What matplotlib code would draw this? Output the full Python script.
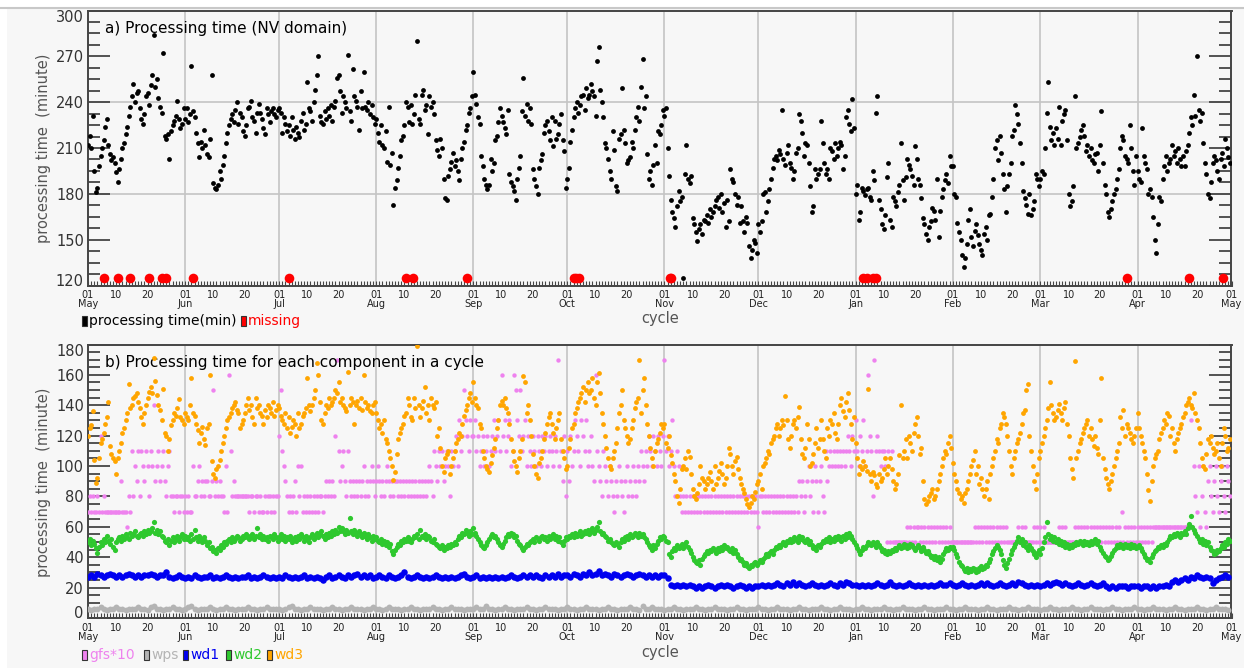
import matplotlib
matplotlib.use("Agg")
import matplotlib.pyplot as plt
import matplotlib.dates as mdates
from matplotlib.ticker import MultipleLocator, FuncFormatter
from matplotlib.patches import Rectangle
from matplotlib.lines import Line2D
import numpy as np
import pandas as pd

start = pd.Timestamp("2018-05-01")
end = pd.Timestamp("2019-05-01")

# NV domain total processing time (minutes), two cycles per day, May .. Apr
nv_time = [
    212,218,210,231,195,181,184,198,205,210,215,224,229,212,206,202,204,200,194,188,196,203,210,213,219,224,231,237,244,252,240,246,247,236,229,226,232,244,246,238,251,258,284,250,255,243,237,233,272,218,216,219,203,221,225,228,231,241,229,223,226,236,
    229,236,227,232,264,234,230,220,213,204,214,210,222,212,206,204,216,258,187,184,183,186,195,190,199,205,213,220,225,229,232,227,235,240,226,233,230,221,218,225,236,237,241,230,228,220,233,239,233,229,223,219,236,232,227,234,236,232,230,235,
    236,233,220,230,226,221,225,218,230,222,216,224,220,217,228,233,222,226,253,236,234,228,240,248,258,270,231,227,226,234,229,236,231,238,228,237,241,256,258,247,233,244,240,236,271,234,228,262,244,241,237,222,247,236,260,237,235,240,232,238,230,226,
    229,220,214,225,212,210,221,201,237,199,207,173,184,189,197,205,215,218,225,240,237,227,238,226,232,245,280,229,226,245,248,235,238,219,244,237,240,232,215,209,205,216,210,190,177,176,192,196,201,207,198,202,195,189,203,210,214,222,225,233,236,244,
    260,245,239,230,226,205,198,190,186,183,186,203,195,200,215,218,227,236,231,227,223,219,235,193,188,185,182,176,190,197,205,234,256,231,239,228,236,226,196,190,185,180,197,202,206,220,225,228,221,215,230,211,228,216,219,226,232,215,208,184,
    190,197,214,222,230,236,240,233,238,244,245,235,249,243,245,252,247,244,231,267,276,248,240,230,213,210,203,195,190,221,209,185,182,216,219,249,222,213,200,202,204,214,210,222,230,237,228,250,268,236,244,206,190,195,186,199,212,200,221,219,225,235,
    231,236,210,192,176,168,164,158,172,182,175,178,125,193,212,190,187,192,164,160,155,149,157,160,154,163,162,166,161,170,165,168,172,176,178,171,180,168,174,158,176,162,196,190,188,180,173,178,161,172,162,155,165,161,146,138,143,150,148,141,
    160,155,162,180,181,168,175,183,190,197,203,205,202,209,206,235,203,199,207,212,200,197,190,195,207,210,232,228,220,205,213,212,200,185,168,172,196,190,193,196,228,213,200,193,196,190,210,208,203,213,205,210,214,212,196,205,230,235,226,221,242,223,
    180,186,163,168,184,182,179,183,184,178,176,195,189,233,244,176,170,160,157,166,191,200,163,158,178,175,172,181,186,213,189,176,191,203,199,196,192,186,211,203,190,186,177,164,160,154,150,158,162,171,169,163,190,152,169,178,183,189,193,187,205,198,
    198,180,178,161,155,150,140,132,138,147,163,170,152,146,156,160,153,147,143,140,154,158,150,166,167,178,190,210,215,202,218,207,193,183,168,185,193,200,218,222,238,232,226,213,200,182,177,173,167,180,166,170,175,193,190,185,
    190,195,193,210,233,253,224,215,220,212,223,216,237,212,228,232,235,215,180,172,175,185,244,210,213,217,222,225,218,208,212,205,210,202,200,206,207,195,212,234,200,186,180,168,165,170,175,180,183,190,196,210,218,215,205,203,200,225,210,195,186,205,
    195,190,188,223,205,200,196,180,183,178,165,150,141,160,178,175,190,198,205,195,200,203,212,205,208,200,210,203,198,205,198,208,212,220,230,225,245,231,270,235,228,233,213,200,193,180,177,188,200,205,202,195,190,203,207,198,216,210,204,200,
]

# cycles that did not finish
missing_cycles = [
    "2018-05-06 06:00", "2018-05-10 12:00", "2018-05-14 12:00", "2018-05-20 12:00",
    "2018-05-24 12:00", "2018-05-25 18:00", "2018-06-03 12:00", "2018-07-04 06:00",
    "2018-08-10 12:00", "2018-08-12 18:00", "2018-08-30 00:00", "2018-10-03 00:00",
    "2018-10-03 18:00", "2018-10-04 18:00", "2018-11-02 18:00", "2018-11-03 06:00",
    "2019-01-03 12:00", "2019-01-04 12:00", "2019-01-06 12:00", "2019-01-07 12:00",
    "2019-03-28 12:00", "2019-04-17 12:00", "2019-04-28 06:00",
]

# gfs download time x10, two cycles per day
gfs10 = [
    70,80,70,80,70,70,80,70,120,70,80,70,70,70,70,70,70,70,70,70,70,90,70,70,70,60,80,70,110,80,100,90,110,80,110,100,90,110,100,80,110,100,140,90,100,110,90,100,110,90,80,100,110,80,80,70,80,80,70,80,80,70,
    80,70,80,70,70,100,80,80,90,100,80,90,80,90,90,80,80,90,150,80,90,80,90,80,80,70,100,70,160,110,80,90,80,80,80,80,80,80,80,80,80,70,80,80,70,80,80,70,80,70,70,80,70,80,80,70,80,70,80,80,
    120,150,110,100,90,80,70,80,70,80,90,70,100,80,100,70,80,70,80,70,80,70,80,70,80,70,80,80,70,80,90,80,90,80,90,80,120,170,110,90,100,110,90,80,110,90,80,90,80,90,80,90,80,90,100,80,90,80,90,100,90,80,
    90,100,90,80,90,80,90,100,90,80,90,80,90,90,80,90,80,90,80,90,80,90,80,90,80,90,80,90,80,90,80,90,80,90,100,90,80,110,100,90,110,100,110,90,100,110,100,80,110,100,110,120,100,130,110,120,150,130,120,110,130,120,
    120,130,110,120,100,110,120,100,110,120,100,110,120,130,110,120,130,110,160,120,130,110,120,130,100,110,160,150,130,120,150,110,120,130,100,120,110,100,120,110,100,120,110,100,120,110,120,100,110,120,110,100,120,110,170,100,110,90,120,80,
    110,90,120,100,110,130,120,110,100,130,120,110,130,100,110,120,100,90,160,110,100,90,80,110,100,90,80,100,90,80,70,90,80,100,90,80,70,90,100,80,90,80,100,90,80,100,90,110,100,90,110,100,120,110,100,120,110,100,120,110,100,120,
    170,110,120,100,110,130,100,80,110,100,80,70,80,70,80,70,80,70,80,70,80,70,80,70,80,70,80,70,80,70,80,70,80,70,80,70,80,70,80,70,80,70,80,70,80,70,80,70,80,70,80,70,80,70,80,70,80,70,80,70,
    60,80,80,70,80,70,80,70,80,70,80,70,80,70,80,70,80,70,80,70,80,70,80,70,80,70,90,80,90,70,80,90,100,80,90,70,100,90,70,90,100,80,70,110,90,100,110,100,110,100,110,100,110,100,110,100,110,120,110,100,120,110,
    130,110,100,120,110,130,100,110,160,120,110,80,170,110,120,110,100,110,110,100,50,110,50,110,50,50,50,50,50,50,50,50,50,60,50,60,50,60,50,60,60,50,60,50,60,50,60,50,60,50,60,50,60,50,60,50,60,50,60,50,60,50,
    50,50,50,50,50,50,50,50,50,50,50,50,50,50,60,50,60,50,60,50,60,50,60,50,60,50,60,50,60,50,60,50,60,50,60,50,50,50,50,50,50,50,60,50,60,50,60,50,50,50,50,50,60,50,60,50,
    60,50,60,50,50,50,50,50,50,50,50,50,60,50,60,50,60,50,50,50,50,50,60,50,60,50,60,50,60,50,60,50,60,50,60,50,60,50,60,50,60,50,60,50,60,50,60,50,60,50,60,50,70,50,60,50,60,50,60,50,60,50,
    60,50,60,50,60,50,60,50,60,50,60,60,60,60,60,60,60,60,60,60,60,60,60,60,60,60,60,60,60,60,60,60,60,60,130,60,100,80,70,100,60,80,100,70,60,90,100,80,70,90,100,80,70,90,100,80,70,100,90,80,
]

# wps, one value per day
wps = [
    6,5,6,6,7,6,5,6,6,7,6,6,5,6,6,6,7,6,6,5,7,8,6,6,5,6,6,7,6,6,5,
    6,7,8,6,5,6,6,6,7,6,5,6,6,7,6,6,5,6,6,6,7,6,6,5,6,6,7,6,6,6,
    6,5,6,7,8,6,6,5,6,6,7,6,6,6,5,6,6,7,6,6,5,6,6,7,6,6,6,5,6,6,7,
    6,6,5,6,7,6,6,6,5,6,6,7,6,6,5,6,6,6,7,6,6,5,6,6,7,6,6,6,5,6,6,
    6,7,6,6,8,6,6,5,6,6,7,6,6,5,6,6,6,7,6,6,5,6,6,7,6,6,6,5,6,6,
    7,6,6,5,6,6,7,6,6,6,5,6,6,7,6,6,5,6,6,6,7,6,6,5,8,6,6,7,6,6,6,
    5,6,6,7,6,6,5,6,6,6,7,6,6,5,6,6,7,6,6,6,5,6,6,7,6,6,5,6,6,6,
    7,6,6,5,6,6,7,6,6,6,5,6,6,7,6,6,5,6,6,6,7,6,6,5,6,6,7,6,6,6,5,
    6,6,7,6,6,5,6,6,6,7,6,6,5,6,6,7,6,6,6,5,6,6,7,6,6,5,6,6,6,7,6,
    6,5,6,6,7,6,6,6,5,6,6,7,6,6,5,6,6,6,7,6,6,5,6,6,7,6,6,6,
    5,6,6,7,6,6,5,6,6,6,7,6,6,5,6,6,7,6,6,6,5,6,6,7,6,6,5,6,6,6,7,
    6,6,5,6,6,7,6,6,6,5,6,6,7,6,6,5,6,6,6,7,6,6,5,6,6,7,6,6,6,5,
]

# wrf domain 1, one value per day
wd1 = [
    27,28,27,29,28,27,28,29,28,27,28,27,28,29,28,27,28,27,28,28,29,28,27,28,28,30,27,26,27,28,27,
    26,27,26,28,27,26,27,27,28,26,27,26,27,28,27,26,27,26,27,27,28,26,27,26,27,28,27,26,27,26,
    27,26,28,27,26,27,26,27,28,26,27,26,27,26,25,27,28,26,27,28,27,26,28,27,28,29,27,28,27,28,26,
    27,28,27,26,28,27,26,27,28,30,27,26,27,28,27,26,27,26,27,28,27,26,27,26,27,26,27,28,29,27,26,
    27,28,26,27,26,27,26,27,26,27,26,27,28,27,26,27,28,27,28,27,28,27,26,28,27,28,27,29,27,28,
    28,27,29,28,27,29,28,30,28,29,31,28,29,28,27,29,28,27,28,29,28,27,28,29,28,27,28,27,28,27,28,
    28,26,22,21,22,21,22,21,22,21,20,21,20,21,22,21,20,21,22,21,22,21,20,21,22,21,20,21,20,21,
    21,22,21,22,21,22,23,22,21,23,22,24,22,23,22,21,22,23,22,21,22,21,22,23,22,21,23,22,24,23,22,
    22,21,22,21,22,21,22,23,22,21,22,24,22,21,22,21,22,23,22,21,22,21,22,21,22,21,22,23,22,22,23,
    22,21,22,23,22,21,22,21,22,23,22,23,22,21,22,23,22,21,22,23,22,24,23,22,21,22,21,22,
    21,22,23,22,23,24,23,22,23,22,21,22,23,22,21,22,23,22,21,22,23,21,20,21,20,21,21,21,20,21,21,
    21,20,21,21,20,21,20,21,21,22,21,24,25,24,25,26,25,27,26,28,27,26,27,26,23,25,26,27,28,27,
]

# wrf domain 2, two cycles per day
wd2 = [
    50,52,48,51,49,46,43,47,50,48,52,50,54,51,49,52,47,45,50,52,53,51,54,52,55,53,52,56,54,55,57,54,53,55,56,54,57,55,58,56,57,59,63,56,58,55,57,54,53,51,50,52,48,51,53,50,52,54,51,53,55,52,
    54,52,53,51,55,52,58,53,51,54,52,50,53,51,48,50,46,47,44,45,43,46,45,48,47,50,49,51,52,50,53,51,52,54,53,51,52,54,53,55,54,52,53,55,52,54,59,53,55,52,54,52,53,51,54,53,52,55,53,51,
    53,55,52,54,51,53,52,54,50,52,53,51,54,52,55,53,51,54,52,50,53,55,52,54,56,53,55,57,54,52,55,53,56,54,57,55,58,56,60,57,59,57,55,58,56,66,57,55,58,56,54,57,55,53,56,54,52,55,53,51,54,52,
    53,51,50,52,49,51,48,50,47,49,44,42,45,47,49,48,51,50,52,51,53,51,50,52,54,53,55,52,58,54,53,55,52,54,53,51,50,52,49,48,47,46,48,45,47,46,48,47,49,48,50,49,52,54,53,56,55,58,56,54,57,55,
    59,56,54,52,50,48,47,46,48,50,52,54,55,53,54,52,50,48,47,49,51,53,55,54,56,55,53,54,51,49,48,46,45,47,49,48,50,51,52,50,53,52,51,53,54,52,53,51,54,52,53,55,52,54,51,53,50,48,51,53,
    52,54,53,55,53,56,54,55,57,54,55,57,56,58,55,57,59,56,58,60,63,57,55,56,54,53,51,52,50,49,48,50,49,47,50,52,51,53,54,52,55,53,54,56,55,53,56,54,55,53,52,50,48,47,45,48,46,49,51,53,52,54,
    53,51,50,42,40,44,46,45,48,46,47,49,46,48,50,47,45,43,40,38,37,36,38,35,39,41,42,44,43,45,44,46,45,43,46,44,47,45,48,46,47,45,44,46,43,45,42,40,38,39,37,35,36,34,33,35,34,36,37,35,
    36,38,37,39,40,42,41,43,44,42,45,47,46,48,47,49,50,48,51,50,52,50,51,53,52,50,54,52,53,51,50,52,49,51,48,46,47,45,48,47,49,51,50,52,51,53,50,52,51,53,52,54,53,51,54,52,55,53,56,54,52,50,
    48,46,44,42,45,47,46,48,50,49,48,50,49,47,50,48,46,44,45,43,42,44,43,45,44,46,45,47,48,46,47,49,48,46,47,49,48,46,45,47,48,46,44,47,45,43,44,42,40,41,39,41,38,40,37,39,42,44,46,45,47,46,
    47,45,42,40,37,35,34,32,31,33,30,32,31,33,32,30,31,33,34,32,33,35,34,37,39,42,44,46,48,47,45,42,38,35,33,36,39,42,45,47,49,51,53,50,52,48,50,47,45,48,46,44,42,40,43,45,
    42,46,50,53,63,55,52,54,51,53,50,52,49,51,48,50,47,49,46,48,47,49,48,50,49,51,50,48,51,49,50,48,51,49,50,52,49,51,47,45,43,41,40,38,39,41,43,45,46,48,47,49,48,46,49,47,48,46,49,47,48,46,
    47,48,46,44,42,40,38,39,37,40,42,44,45,47,46,48,47,49,48,50,52,54,53,55,54,56,55,53,56,55,57,55,59,62,67,60,58,56,54,52,50,52,49,51,48,50,47,45,44,42,43,45,44,46,48,47,50,49,52,51,
]

# wrf domain 3, two cycles per day
wd3 = [
    120,125,127,136,104,89,92,105,115,118,122,128,132,142,113,108,105,103,95,105,110,115,122,125,130,135,154,138,140,145,146,148,142,138,132,128,135,140,145,149,152,148,171,156,147,140,137,130,151,122,120,110,118,127,130,135,133,138,144,132,130,128,
    135,132,130,140,158,135,133,128,124,115,122,126,118,114,125,128,160,103,95,92,98,100,104,110,115,120,125,130,132,135,138,140,142,137,135,125,128,130,135,140,145,137,140,132,128,145,138,140,135,133,128,137,132,140,138,135,142,133,137,140,
    138,133,130,128,135,125,132,122,126,130,128,120,135,125,128,133,135,138,158,140,136,140,145,150,168,160,142,130,128,135,140,138,145,140,142,145,150,148,155,142,145,140,138,136,162,140,145,142,128,140,143,138,145,137,160,142,138,140,136,135,140,142,
    135,130,125,128,122,130,118,115,110,105,100,91,96,108,118,122,125,128,133,135,145,140,132,130,145,138,179,140,132,138,143,152,135,140,130,145,140,138,142,120,125,112,100,96,105,108,110,95,100,105,110,115,118,122,120,128,133,137,140,145,148,142,
    155,145,140,138,128,125,110,105,100,98,96,102,107,112,118,125,130,140,143,140,145,138,135,128,118,110,103,100,96,105,110,118,159,155,135,140,130,120,108,100,95,92,102,105,110,118,122,128,132,135,128,122,118,125,130,135,118,110,105,98,
    100,112,118,125,128,135,138,142,145,148,152,142,150,155,148,150,158,145,140,155,161,148,135,128,120,112,105,100,98,105,110,115,125,135,140,150,130,125,120,115,118,125,130,138,142,145,170,135,150,158,140,128,120,112,105,100,110,115,118,122,128,125,
    128,115,112,120,107,102,95,90,80,76,85,98,100,105,98,110,106,95,85,80,78,82,88,100,92,90,85,88,92,96,90,85,100,88,92,97,102,95,88,92,100,112,108,100,95,103,106,98,92,88,85,82,78,75,73,76,80,78,83,88,
    90,95,85,100,102,105,110,108,115,118,120,125,128,120,125,130,127,146,130,118,112,120,128,130,125,132,139,118,108,105,112,128,118,100,102,108,115,125,112,118,130,118,110,105,125,120,130,128,135,122,118,128,140,145,136,132,142,148,137,128,118,132,
    115,105,95,100,98,103,100,97,151,95,90,96,94,88,86,95,90,92,98,105,95,100,105,98,90,85,88,95,107,140,105,110,118,105,120,115,110,122,128,132,120,108,112,90,78,75,77,80,82,85,78,80,85,90,95,100,105,110,108,115,120,112,
    102,95,90,85,82,78,80,76,82,85,90,95,100,104,110,95,100,88,92,85,80,85,90,78,95,100,105,110,118,115,125,128,135,132,128,120,110,100,95,105,110,115,118,122,128,135,137,150,154,120,110,100,90,85,95,105,
    110,115,120,125,130,138,155,140,135,130,132,137,141,135,130,138,142,128,120,105,98,92,169,105,110,115,118,122,125,128,130,120,125,118,113,120,112,108,130,158,105,98,92,88,85,90,95,100,105,110,115,132,125,137,120,128,125,122,118,115,120,125,
    135,125,120,115,110,105,95,84,77,90,100,105,108,110,118,122,125,130,128,135,133,120,125,115,110,118,122,125,128,132,135,140,142,145,140,138,148,135,130,125,115,105,100,98,108,118,115,120,112,108,110,115,105,100,115,125,120,110,112,118,
]

BG = "#f7f7f7"
FRAME = "#454545"
W, H = 1244, 668


def cycle_times(values, hours):
    return start + pd.to_timedelta(np.arange(len(values)) * hours, unit="h")


def day_label(x, pos):
    d = mdates.num2date(x)
    if d.day == 1:
        return d.strftime("%d\n%b")
    return d.strftime("%d")


def fx(px):
    return px / W


def fy(py):
    return 1 - py / H


def style_axes(ax, ymin, ymax, major, minor):
    ax.set_facecolor(BG)
    ax.set_xlim(start, end)
    ax.set_ylim(ymin, ymax)
    for s in ax.spines.values():
        s.set_color(FRAME)
        s.set_linewidth(1.4)
    ax.xaxis.set_major_locator(mdates.DayLocator(bymonthday=[1, 10, 20]))
    ax.xaxis.set_minor_locator(mdates.DayLocator())
    ax.xaxis.set_major_formatter(FuncFormatter(day_label))
    ax.yaxis.set_major_locator(MultipleLocator(major))
    ax.yaxis.set_minor_locator(MultipleLocator(minor))
    ax.tick_params(axis="y", which="major", direction="in", length=16, width=1.3,
                   color=FRAME, left=True, right=True, labelsize=10.5,
                   labelcolor="#333333", pad=3)
    ax.tick_params(axis="y", which="minor", direction="in", length=8.5, width=1.3,
                   color=FRAME, left=True, right=True)
    ax.tick_params(axis="x", which="both", direction="in", length=3.5, width=0.8,
                   color=FRAME, top=False, labelsize=7, labelcolor="#222222", pad=3.5)
    for m in pd.date_range("2018-06-01", "2019-04-01", freq="MS"):
        ax.axvline(m, color="#c4c4c4", lw=1.2, zorder=0)


fig = plt.figure(figsize=(W / 100, H / 100), dpi=100, facecolor="white")
fig.patches.append(Rectangle((fx(7), 0), 1, fy(8), transform=fig.transFigure,
                             facecolor=BG, edgecolor="none", zorder=-10))
fig.add_artist(Line2D([0, 1], [fy(7.5), fy(7.5)], color="#c8c8c8", lw=1.5))

left, right = 88, 1231.5
ax1 = fig.add_axes([fx(left), fy(285.5), fx(right - left), (285.5 - 10.5) / H])
ax2 = fig.add_axes([fx(left), fy(618), fx(right - left), (618 - 344.5) / H])

# panel a
style_axes(ax1, 120, 300, 30, 7.5)
for g in (180, 240):
    ax1.axhline(g, color="#c4c4c4", lw=1.2, zorder=0)
ax1.scatter(cycle_times(nv_time, 12), nv_time, s=12, c="black", linewidths=0, zorder=3)
miss_t = pd.to_datetime(missing_cycles)
ax1.scatter(miss_t, np.full(len(miss_t), 125.0), s=48, c="#ff0000", linewidths=0, zorder=4)
ax1.text(0.015, 0.935, "a) Processing time (NV domain)", transform=ax1.transAxes,
         fontsize=11, va="center", ha="left", color="black")

# panel b
style_axes(ax2, 0, 180, 20, 5)
ax2.scatter(cycle_times(gfs10, 12), gfs10, s=10, c="#ee82ee", linewidths=0, zorder=3)
ax2.scatter(cycle_times(wps, 24), wps, s=18, c="#b4b4b4", linewidths=0, zorder=3)
ax2.scatter(cycle_times(wd1, 24), wd1, s=22, c="#0000f0", linewidths=0, zorder=3)
ax2.scatter(cycle_times(wd2, 12), wd2, s=14, c="#2ec82e", linewidths=0, zorder=3)
ax2.scatter(cycle_times(wd3, 12), wd3, s=12, c="#ffa500", linewidths=0, zorder=4)
ax2.text(0.015, 0.935, "b) Processing time for each component in a cycle",
         transform=ax2.transAxes, fontsize=11, va="center", ha="left", color="black")

# axis titles
for yc in (148, 482):
    fig.text(fx(44), fy(yc), "processing time  (minute)", rotation=90, ha="center",
             va="center", fontsize=10.5, color="#555555")
fig.text(fx(660), fy(319), "cycle", ha="center", va="center", fontsize=10.5, color="#555555")
fig.text(fx(660), fy(653), "cycle", ha="center", va="center", fontsize=10.5, color="#555555")


def legend_item(xp, yp, color, label, text_color):
    fig.patches.append(Rectangle((fx(xp), fy(yp + 5)), 5 / W, 10 / H,
                                 transform=fig.transFigure, facecolor=color,
                                 edgecolor="#333333", lw=0.8))
    fig.text(fx(xp + 7), fy(yp), label, ha="left", va="center", fontsize=10,
             color=text_color)


legend_item(82, 321, "black", "processing time(min)", "black")
legend_item(241, 321, "#ff0000", "missing", "#ff0000")

legend_item(82, 655, "#ee82ee", "gfs*10", "#ee82ee")
legend_item(144, 655, "#b4b4b4", "wps", "#b4b4b4")
legend_item(183, 655, "#0000f0", "wd1", "#0000f0")
legend_item(226, 655, "#2ec82e", "wd2", "#2ec82e")
legend_item(267, 655, "#ffa500", "wd3", "#ffa500")

# keep the end labels of each y axis inside the frame, tighten the date labels
fig.canvas.draw()
for ax, lo, hi in ((ax1, "120", "300"), (ax2, "0", "180")):
    for lab in ax.get_yticklabels():
        if lab.get_text() == lo:
            lab.set_verticalalignment("baseline")
        elif lab.get_text() == hi:
            lab.set_verticalalignment("top")
    for lab in ax.get_xticklabels():
        lab.set_linespacing(0.85)

fig.savefig("out.png", dpi=100, facecolor=fig.get_facecolor())
